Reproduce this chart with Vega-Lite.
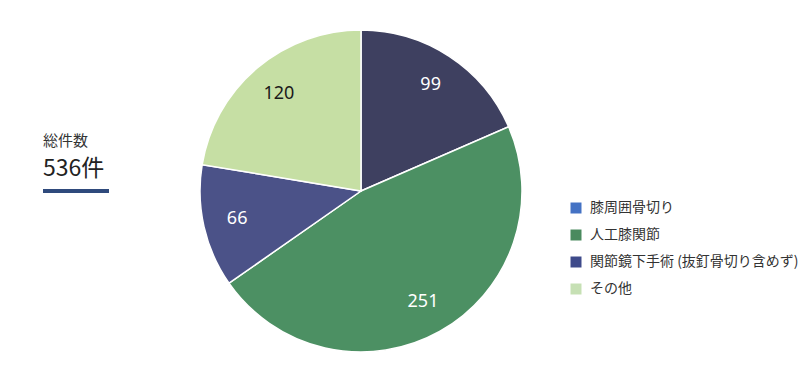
{
  "$schema": "https://vega.github.io/schema/vega-lite/v6.json",
  "padding": {"left": 43, "top": 27, "right": 0, "bottom": 0},
  "background": "white",
  "config": {
    "view": {"stroke": null},
    "font": "Noto Sans CJK JP"
  },
  "data": {
    "values": [
      {"cat": "膝周囲骨切り", "value": 99, "idx": 1},
      {"cat": "人工膝関節", "value": 251, "idx": 2},
      {"cat": "関節鏡下手術 (抜釘骨切り含めず)", "value": 66, "idx": 3},
      {"cat": "その他", "value": 120, "idx": 4}
    ]
  },
  "bounds": "flush",
  "center": true,
  "spacing": 91,
  "hconcat": [
    {
      "width": 66,
      "height": 4,
      "view": {"fill": "#2f4a7c", "stroke": null},
      "title": {
        "text": "総件数",
        "subtitle": "536件",
        "anchor": "start",
        "orient": "top",
        "font": "Noto Sans CJK JP",
        "fontSize": 15,
        "fontWeight": "normal",
        "color": "#333333",
        "subtitleFont": "Noto Sans CJK JP",
        "subtitleFontSize": 23,
        "subtitleColor": "#222222",
        "subtitlePadding": 9,
        "offset": 4
      },
      "mark": {"type": "text"},
      "encoding": {"text": {"value": ""}}
    },
    {
      "width": 322,
      "height": 322,
      "layer": [
        {
          "mark": {"type": "arc", "stroke": "white", "strokeWidth": 1.5},
          "encoding": {
            "theta": {"field": "value", "type": "quantitative", "stack": true},
            "order": {"field": "idx", "type": "quantitative"},
            "color": {
              "field": "cat",
              "type": "nominal",
              "scale": {
                "domain": ["膝周囲骨切り", "人工膝関節", "関節鏡下手術 (抜釘骨切り含めず)", "その他"],
                "range": ["#3e4060", "#4c9063", "#4b5288", "#c6dfa4"]
              },
              "legend": null
            }
          }
        },
        {
          "mark": {"type": "text", "radius": 127, "fontSize": 18, "font": "Noto Sans"},
          "encoding": {
            "theta": {"field": "value", "type": "quantitative", "stack": true},
            "order": {"field": "idx", "type": "quantitative"},
            "text": {"field": "value", "type": "quantitative"},
            "color": {
              "condition": {"test": "datum.cat === 'その他'", "value": "#1a1a1a"},
              "value": "#ffffff"
            }
          }
        },
        {
          "mark": {"type": "point", "shape": "square", "filled": true, "opacity": 0},
          "encoding": {
            "color": {
              "field": "cat",
              "type": "nominal",
              "scale": {
                "domain": ["膝周囲骨切り", "人工膝関節", "関節鏡下手術 (抜釘骨切り含めず)", "その他"],
                "range": ["#4472c4", "#4a8a5e", "#3e4a8a", "#c6e0b4"]
              },
              "legend": {
                "title": null,
                "orient": "none",
                "legendX": 369,
                "legendY": 171,
                "padding": 0,
                "symbolType": "square",
                "symbolSize": 121,
                "symbolOpacity": 1,
                "symbolStrokeWidth": 0,
                "labelFont": "Noto Sans CJK JP",
                "labelFontSize": 14,
                "labelColor": "#333333",
                "labelOffset": 7,
                "labelLimit": 300,
                "rowPadding": 13
              }
            }
          }
        }
      ],
      "resolve": {"scale": {"color": "independent"}}
    }
  ]
}
